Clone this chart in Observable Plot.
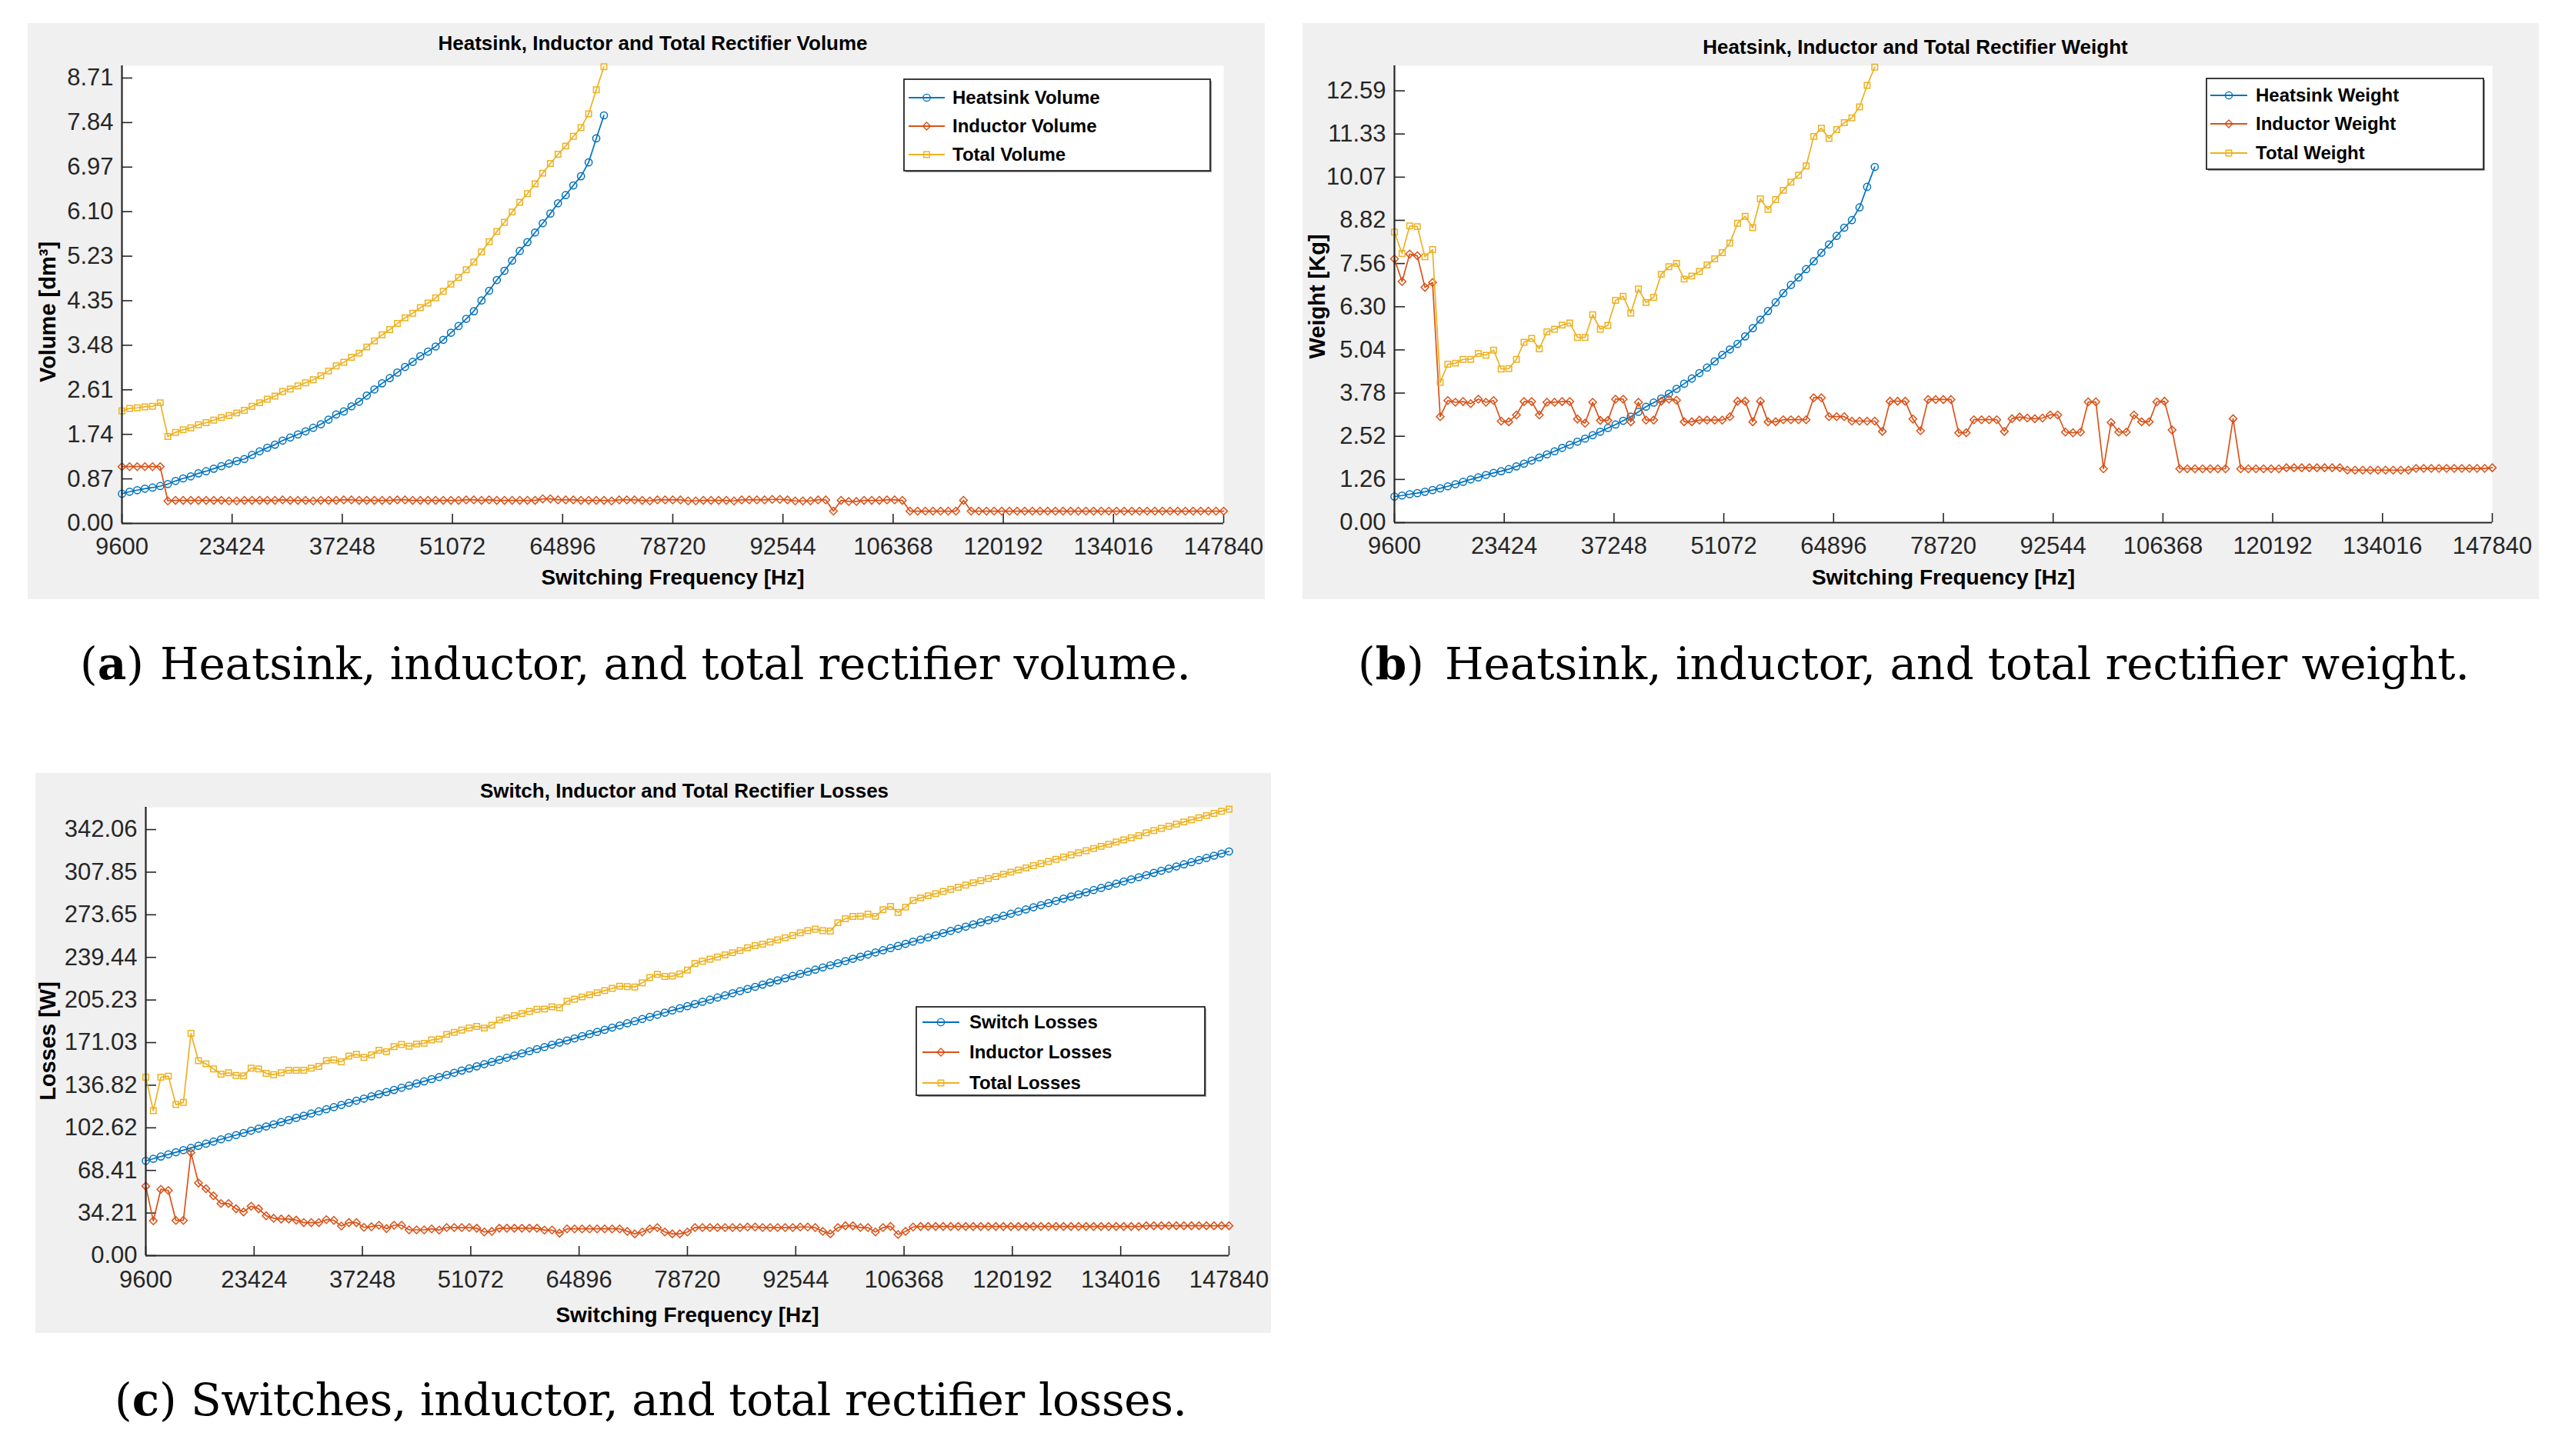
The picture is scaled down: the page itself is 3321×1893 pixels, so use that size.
<!DOCTYPE html>
<html><head><meta charset="utf-8">
<script src="https://cdn.jsdelivr.net/npm/d3@7"></script>
<script src="https://cdn.jsdelivr.net/npm/@observablehq/plot@0.6"></script>
<style>
html,body{margin:0;padding:0;background:#fff;}
body{width:3321px;height:1893px;position:relative;overflow:hidden;font-family:"Liberation Sans",Arial,sans-serif;}
.panel{position:absolute;}
#overlay{position:absolute;left:0;top:0;}
</style></head>
<body>
<script>
// ---------------- DATA ----------------
const freqHz = [9600,10560,11520,12480,13440,14400,15360,16320,17280,18240,
19200,20160,21120,22080,23040,24000,24960,25920,26880,27840,
28800,29760,30720,31680,32640,33600,34560,35520,36480,37440,
38400,39360,40320,41280,42240,43200,44160,45120,46080,47040,
48000,48960,49920,50880,51840,52800,53760,54720,55680,56640,
57600,58560,59520,60480,61440,62400,63360,64320,65280,66240,
67200,68160,69120,70080,71040,72000,72960,73920,74880,75840,
76800,77760,78720,79680,80640,81600,82560,83520,84480,85440,
86400,87360,88320,89280,90240,91200,92160,93120,94080,95040,
96000,96960,97920,98880,99840,100800,101760,102720,103680,104640,
105600,106560,107520,108480,109440,110400,111360,112320,113280,114240,
115200,116160,117120,118080,119040,120000,120960,121920,122880,123840,
124800,125760,126720,127680,128640,129600,130560,131520,132480,133440,
134400,135360,136320,137280,138240,139200,140160,141120,142080,143040,
144000,144960,145920,146880,147840];

const xTicks = [9600,23424,37248,51072,64896,78720,92544,106368,120192,134016,147840];
const xTickLabels = ["9600","23424","37248","51072","64896","78720","92544","106368","120192","134016","147840"];

// (a) Volume [dm3]
const volHeatsink = [0.58,0.62,0.65,0.68,0.70,0.73,0.77,0.83,0.88,0.92,
0.98,1.02,1.07,1.12,1.17,1.22,1.26,1.34,1.41,1.48,
1.54,1.62,1.68,1.74,1.80,1.87,1.94,2.03,2.13,2.19,
2.29,2.38,2.50,2.62,2.74,2.84,2.95,3.06,3.16,3.27,
3.36,3.46,3.59,3.73,3.86,4.00,4.15,4.36,4.55,4.76,
4.94,5.14,5.33,5.50,5.69,5.87,6.06,6.26,6.42,6.61,
6.79,7.06,7.53,7.98];
const volInductor = [1.11,1.11,1.11,1.11,1.11,1.11,0.44,0.45,0.45,0.45,
0.45,0.45,0.45,0.45,0.44,0.44,0.45,0.45,0.45,0.45,
0.45,0.46,0.45,0.45,0.45,0.44,0.45,0.45,0.45,0.46,
0.46,0.45,0.45,0.45,0.45,0.45,0.46,0.46,0.45,0.45,
0.45,0.45,0.45,0.45,0.45,0.46,0.46,0.45,0.46,0.45,
0.45,0.45,0.45,0.45,0.45,0.48,0.48,0.46,0.46,0.46,
0.45,0.45,0.45,0.45,0.44,0.46,0.46,0.46,0.45,0.44,
0.46,0.46,0.46,0.46,0.44,0.44,0.45,0.45,0.45,0.45,
0.44,0.46,0.46,0.46,0.46,0.47,0.47,0.46,0.44,0.44,
0.44,0.46,0.46,0.24,0.45,0.43,0.43,0.45,0.45,0.45,
0.46,0.46,0.45,0.24,0.24,0.24,0.24,0.24,0.24,0.24,
0.45,0.24,0.24,0.24,0.24,0.24,0.24,0.24,0.24,0.24,
0.24,0.24,0.24,0.24,0.24,0.24,0.24,0.24,0.24,0.24,
0.24,0.24,0.24,0.24,0.24,0.24,0.24,0.24,0.24,0.24,
0.24,0.24,0.24,0.24,0.24];
const volTotal = [2.20,2.25,2.26,2.28,2.29,2.36,1.70,1.78,1.83,1.87,
1.93,1.97,2.02,2.07,2.11,2.16,2.21,2.29,2.36,2.43,
2.49,2.58,2.63,2.69,2.75,2.81,2.89,2.98,3.08,3.15,
3.25,3.33,3.45,3.57,3.69,3.79,3.91,4.02,4.11,4.22,
4.31,4.41,4.54,4.68,4.81,4.96,5.11,5.31,5.51,5.71,
5.89,6.09,6.28,6.45,6.64,6.85,7.04,7.22,7.38,7.57,
7.74,8.01,8.48,8.93];
const volTicks = [0,0.871,1.742,2.613,3.484,4.355,5.226,6.097,6.968,7.839,8.71];
const volTickLabels = ["0.00","0.87","1.74","2.61","3.48","4.35","5.23","6.10","6.97","7.84","8.71"];

// (b) Weight [Kg]
const wtHeatsink = [0.76,0.79,0.83,0.86,0.90,0.95,1.00,1.06,1.12,1.19,
1.26,1.32,1.39,1.45,1.50,1.56,1.64,1.72,1.81,1.90,
1.99,2.08,2.18,2.27,2.36,2.45,2.55,2.65,2.76,2.86,
2.97,3.09,3.23,3.38,3.50,3.62,3.76,3.90,4.05,4.20,
4.36,4.52,4.70,4.89,5.05,5.21,5.43,5.67,5.92,6.17,
6.42,6.69,6.93,7.15,7.39,7.62,7.87,8.11,8.36,8.60,
8.82,9.19,9.79,10.37];
const wtInductor = [7.69,7.03,7.83,7.78,6.86,7.00,3.09,3.56,3.51,3.53,
3.47,3.60,3.51,3.56,2.96,2.94,3.14,3.53,3.53,3.14,
3.51,3.51,3.53,3.53,3.02,2.90,3.51,2.98,2.98,3.60,
3.60,2.94,3.51,2.99,2.99,3.54,3.60,3.57,2.94,2.94,
2.99,2.99,2.99,2.99,3.09,3.54,3.54,2.94,3.54,2.94,
2.94,3.00,3.00,3.00,3.00,3.64,3.64,3.09,3.09,3.09,
2.96,2.96,2.96,2.96,2.66,3.54,3.54,3.54,3.02,2.68,
3.59,3.59,3.59,3.59,2.62,2.62,3.00,3.00,3.00,3.00,
2.66,3.03,3.08,3.05,3.03,3.05,3.14,3.14,2.64,2.62,
2.64,3.52,3.52,1.57,2.92,2.64,2.64,3.14,2.94,2.94,
3.52,3.54,2.70,1.57,1.57,1.57,1.57,1.57,1.57,1.57,
3.03,1.57,1.57,1.57,1.57,1.57,1.57,1.60,1.60,1.60,
1.60,1.60,1.60,1.60,1.60,1.53,1.53,1.53,1.53,1.53,
1.53,1.53,1.53,1.53,1.58,1.58,1.58,1.58,1.58,1.58,
1.58,1.58,1.58,1.58,1.60];
const wtTotal = [8.47,7.85,8.65,8.63,7.75,7.96,4.09,4.62,4.65,4.76,
4.76,4.93,4.88,5.03,4.48,4.49,4.76,5.26,5.37,5.07,
5.56,5.64,5.76,5.82,5.40,5.40,6.06,5.64,5.75,6.48,
6.60,6.11,6.81,6.42,6.57,7.24,7.46,7.56,7.10,7.19,
7.32,7.51,7.69,7.87,8.15,8.73,8.93,8.60,9.44,9.13,
9.42,9.69,9.93,10.13,10.40,11.26,11.50,11.20,11.46,11.66,
11.80,12.12,12.75,13.28];
const wtTicks = [0,1.259,2.518,3.777,5.036,6.295,7.554,8.813,10.072,11.331,12.59];
const wtTickLabels = ["0.00","1.26","2.52","3.78","5.04","6.30","7.56","8.82","10.07","11.33","12.59"];

// (c) Losses [W]
const lossSwitch = [76.1,77.8,79.6,81.3,83.0,84.7,86.5,88.2,89.9,91.6,
93.4,95.1,96.8,98.5,100.3,102.0,103.7,105.4,107.2,108.9,
110.6,112.3,114.1,115.8,117.5,119.2,121.0,122.7,124.4,126.1,
127.9,129.6,131.3,133.0,134.8,136.5,138.2,139.9,141.7,143.4,
145.1,146.8,148.6,150.3,152.0,153.7,155.5,157.2,158.9,160.6,
162.4,164.1,165.8,167.5,169.3,171.0,172.7,174.4,176.2,177.9,
179.6,181.3,183.1,184.8,186.5,188.2,190.0,191.7,193.4,195.1,
196.9,198.6,200.3,202.0,203.8,205.5,207.2,208.9,210.7,212.4,
214.1,215.8,217.6,219.3,221.0,222.7,224.5,226.2,227.9,229.6,
231.4,233.1,234.8,236.5,238.3,240.0,241.7,243.4,245.2,246.9,
248.6,250.3,252.1,253.8,255.5,257.2,259.0,260.7,262.4,264.1,
265.9,267.6,269.3,271.0,272.8,274.5,276.2,277.9,279.7,281.4,
283.1,284.8,286.6,288.3,290.0,291.7,293.5,295.2,296.9,298.6,
300.4,302.1,303.8,305.5,307.3,309.0,310.7,312.4,314.2,315.9,
317.6,319.3,321.1,322.8,324.5];
const lossInductor = [55.8,27.9,53.3,52.3,28.3,28.3,82.7,58.3,53.7,48.0,
41.8,41.8,37.6,35.1,39.7,37.6,32.0,30.0,29.4,29.4,
28.5,26.5,26.5,26.5,28.9,28.3,23.8,26.5,26.5,22.7,
23.2,24.4,21.7,24.4,24.4,20.7,20.7,20.7,21.5,20.5,
22.5,22.5,22.5,22.5,22.0,19.0,19.5,22.0,22.0,22.0,
22.0,22.0,22.0,20.5,20.5,18.0,21.5,21.5,21.5,21.5,
21.5,21.5,21.5,21.5,19.5,17.5,19.0,21.5,22.5,19.0,
17.5,17.5,19.0,22.5,22.5,22.5,22.5,22.5,22.5,22.5,
23.0,23.0,22.5,22.5,22.5,22.5,22.5,23.0,23.0,22.5,
19.5,17.5,22.5,24.0,24.0,22.5,22.5,19.0,22.5,23.5,
17.0,19.5,23.0,23.4,23.4,23.4,23.4,23.4,23.4,23.4,
23.4,23.4,23.4,23.4,23.4,23.4,23.4,23.4,23.4,23.4,
23.4,23.4,23.4,23.4,23.4,23.4,23.4,23.4,23.4,23.4,
23.4,23.4,23.4,24.0,24.0,24.0,24.0,24.0,24.0,24.0,
24.0,24.0,24.0,24.0,24.0];
const lossTotal = [143.2,116.4,143.2,144.1,121.3,123.0,178.4,156.5,154.0,149.9,
145.7,146.8,144.7,144.3,150.5,149.9,146.3,145.3,146.8,148.8,
148.8,148.8,150.5,151.9,156.5,157.1,155.6,160.2,161.6,159.2,
161.2,164.9,163.7,167.8,169.5,168.1,169.9,170.5,173.2,173.9,
177.6,179.3,181.1,182.8,184.0,182.7,185.0,189.2,190.9,192.6,
194.4,196.1,197.8,198.0,199.8,199.0,204.2,205.9,207.7,209.4,
211.1,212.8,214.6,216.3,216.0,215.7,219.0,223.2,225.9,224.1,
224.4,226.1,229.3,234.5,236.3,238.0,239.7,241.4,243.2,244.9,
247.1,248.8,250.1,251.8,253.5,255.2,257.0,259.2,260.9,262.1,
260.9,260.6,267.3,270.5,272.3,272.5,274.2,272.4,277.7,280.4,
275.6,279.8,285.1,287.2,288.9,290.6,292.4,294.1,295.8,297.5,
299.3,301.0,302.7,304.4,306.2,307.9,309.6,311.3,313.1,314.8,
316.5,318.2,320.0,321.7,323.4,325.1,326.9,328.6,330.3,332.0,
333.8,335.5,337.2,339.5,341.3,343.0,344.7,346.4,348.2,349.9,
351.6,353.3,355.1,356.8,358.5];
const lossTicks = [0,34.206,68.412,102.618,136.824,171.03,205.236,239.442,273.648,307.854,342.06];
const lossTickLabels = ["0.00","34.21","68.41","102.62","136.82","171.03","205.23","239.44","273.65","307.85","342.06"];

const titles = ["Heatsink, Inductor and Total Rectifier Volume","Heatsink, Inductor and Total Rectifier Weight","Switch, Inductor and Total Rectifier Losses"];
const yLabels = ["Volume [dm³]","Weight [Kg]","Losses [W]"];
const xLabel = "Switching Frequency [Hz]";
const legendNames = [["Heatsink Volume","Inductor Volume","Total Volume"],["Heatsink Weight","Inductor Weight","Total Weight"],["Switch Losses","Inductor Losses","Total Losses"]];
const captionLetters = ["a","b","c"];
const captionTexts = ["Heatsink, inductor, and total rectifier volume.","Heatsink, inductor, and total rectifier weight.","Switches, inductor, and total rectifier losses."];

// ---------------- STYLE / LAYOUT ----------------
const seriesStyle = [
  {color:"#0072BD", symbol:"circle", r:4.6},
  {color:"#D95319", symbol:"diamond2", r:4.5},
  {color:"#EDB120", symbol:"square", r:4.2}
];
const axisColor = "#262626";

const panels = [
  {box:{x:36,y:30,w:1608,h:749}, plot:{l:158,r:1590,t:85,b:680}, ymax:8.95,
   ticks:volTicks, tickLabels:volTickLabels, series:[volHeatsink,volInductor,volTotal],
   title:{cx:848,cy:56}, ylab:{cx:62,cy:405}, xlabY:751, xPad:18,
   legend:{x:1175,y:103,w:398,h:119,rows:[127,164,201],lx0:1181,lx1:1228,tx:1238}},
  {box:{x:1693,y:30,w:1607,h:749}, plot:{l:1812,r:3239,t:85,b:679}, ymax:13.32,
   ticks:wtTicks, tickLabels:wtTickLabels, series:[wtHeatsink,wtInductor,wtTotal],
   title:{cx:2489,cy:61}, ylab:{cx:1712,cy:385}, xlabY:751, xPad:18,
   legend:{x:2868,y:102,w:360,h:118,rows:[124,161,199],lx0:2873,lx1:2921,tx:2932}},
  {box:{x:46,y:1005,w:1606,h:728}, plot:{l:189,r:1597,t:1049,b:1632}, ymax:360,
   ticks:lossTicks, tickLabels:lossTickLabels, series:[lossSwitch,lossInductor,lossTotal],
   title:{cx:889,cy:1028}, ylab:{cx:62,cy:1353}, xlabY:1710, xPad:19,
   legend:{x:1191,y:1309,w:375,h:115,rows:[1329,1368,1408],lx0:1199,lx1:1247,tx:1260}}
];

const xLabelMap = new Map(xTicks.map((t,i)=>[t, xTickLabels[i]]));

panels.forEach((p, pi) => {
  const ml = p.plot.l - p.box.x, mr = p.box.x + p.box.w - p.plot.r;
  const mt = p.plot.t - p.box.y, mb = p.box.y + p.box.h - p.plot.b;
  const innerW = p.plot.r - p.plot.l, innerH = p.plot.b - p.plot.t;
  const yLabelMap = new Map(p.ticks.map((t,i)=>[t, p.tickLabels[i]]));
  const marks = [
    Plot.frame({fill:"white", stroke:null}),
    Plot.axisY({ticks:p.ticks, tickFormat:d=>yLabelMap.get(d), tickSize:0, tickPadding:11, fontSize:31, fill:axisColor, label:null}),
    Plot.axisX({ticks:xTicks, tickFormat:d=>xLabelMap.get(d), tickSize:0, tickPadding:p.xPad, fontSize:31, fill:axisColor, label:null}),
    Plot.tickY(p.ticks, {y:d=>d, stroke:axisColor, strokeWidth:1.6, insetRight:innerW-14}),
    Plot.tickX(xTicks, {x:d=>d, stroke:axisColor, strokeWidth:1.6, insetTop:innerH-12}),
  ];
  p.series.forEach((vals, si) => {
    const st = seriesStyle[si];
    const data = vals.map((v,i)=>({f:freqHz[i], v}));
    marks.push(Plot.line(data, {x:"f", y:"v", stroke:st.color, strokeWidth:1.7}));
    marks.push(Plot.dot(data, {x:"f", y:"v", stroke:st.color, fill:"none", symbol:st.symbol, r:st.r, strokeWidth:1.5}));
  });
  marks.push(Plot.ruleX([9600], {stroke:axisColor, strokeWidth:2.2}));
  marks.push(Plot.ruleY([0], {stroke:axisColor, strokeWidth:2.2}));
  marks.push(Plot.text([titles[pi]], {text:d=>d, frameAnchor:"top", textAnchor:"middle", dx:p.title.cx-(p.plot.l+p.plot.r)/2, dy:p.title.cy-p.plot.t, lineAnchor:"middle", fontSize:26, fontWeight:"bold", fill:"#000"}));
  marks.push(Plot.text([xLabel], {text:d=>d, frameAnchor:"bottom", textAnchor:"middle", dy:p.xlabY-p.plot.b, lineAnchor:"middle", fontSize:28, fontWeight:"bold", fill:"#000"}));
  marks.push(Plot.text([yLabels[pi]], {text:d=>d, frameAnchor:"left", textAnchor:"middle", rotate:-90, dx:p.ylab.cx-p.plot.l, dy:p.ylab.cy-(p.plot.t+p.plot.b)/2, lineAnchor:"middle", fontSize:29, fontWeight:"bold", fill:"#000"}));

  const chart = Plot.plot({
    width:p.box.w, height:p.box.h,
    marginLeft:ml, marginRight:mr, marginTop:mt, marginBottom:mb,
    x:{domain:[9600,147840]}, y:{domain:[0,p.ymax]},
    style:{background:"#f0f0f0", fontFamily:'"Liberation Sans", Arial, sans-serif', overflow:"visible"},
    marks
  });
  const div = document.createElement("div");
  div.className = "panel";
  div.style.left = p.box.x + "px";
  div.style.top = p.box.y + "px";
  div.appendChild(chart);
  document.body.appendChild(div);
});

// ---------------- Overlay: legends and captions ----------------
const overlay = d3.select(document.body).append("svg")
  .attr("id","overlay").attr("width",3321).attr("height",1893);

const symbolTypes = {circle:d3.symbolCircle, diamond2:d3.symbolDiamond2, square:d3.symbolSquare};
panels.forEach((p, pi) => {
  const L = p.legend;
  const g = overlay.append("g");
  g.append("rect").attr("x",L.x+2).attr("y",L.y+2).attr("width",L.w).attr("height",L.h).attr("fill","#9a9a9a");
  g.append("rect").attr("x",L.x).attr("y",L.y).attr("width",L.w).attr("height",L.h)
    .attr("fill","#fff").attr("stroke","#262626").attr("stroke-width",1.8);
  legendNames[pi].forEach((name, si) => {
    const st = seriesStyle[si];
    const y = L.rows[si];
    g.append("line").attr("x1",L.lx0).attr("x2",L.lx1).attr("y1",y).attr("y2",y)
      .attr("stroke",st.color).attr("stroke-width",1.8);
    g.append("path").attr("d", d3.symbol(symbolTypes[st.symbol], Math.PI*st.r*st.r)())
      .attr("transform",`translate(${(L.lx0+L.lx1)/2},${y})`)
      .attr("fill","none").attr("stroke",st.color).attr("stroke-width",1.4);
    g.append("text").attr("x",L.tx).attr("y",y).attr("dy","0.35em")
      .attr("font-family",'"Liberation Sans", Arial, sans-serif').attr("font-size",24).attr("font-weight","bold")
      .attr("fill","#000").text(name);
  });
});

const captions = [
  {px:104, tx:208, end:1548, base:883},
  {px:1765, tx:1878, end:3210, base:883},
  {px:149, tx:248, end:1543, base:1840}
];
captions.forEach((c, i) => {
  const t = overlay.append("text").attr("x",c.px).attr("y",c.base)
    .attr("font-family",'"DejaVu Serif", serif').attr("font-size",58).attr("fill","#000");
  t.append("tspan").text("(");
  t.append("tspan").attr("font-weight","bold").text(captionLetters[i]);
  t.append("tspan").text(")");
  overlay.append("text").attr("x",c.tx).attr("y",c.base)
    .attr("font-family",'"DejaVu Serif", serif').attr("font-size",58).attr("fill","#000")
    .attr("textLength", c.end - c.tx).attr("lengthAdjust","spacing")
    .text(captionTexts[i]);
});
</script>
</body></html>
